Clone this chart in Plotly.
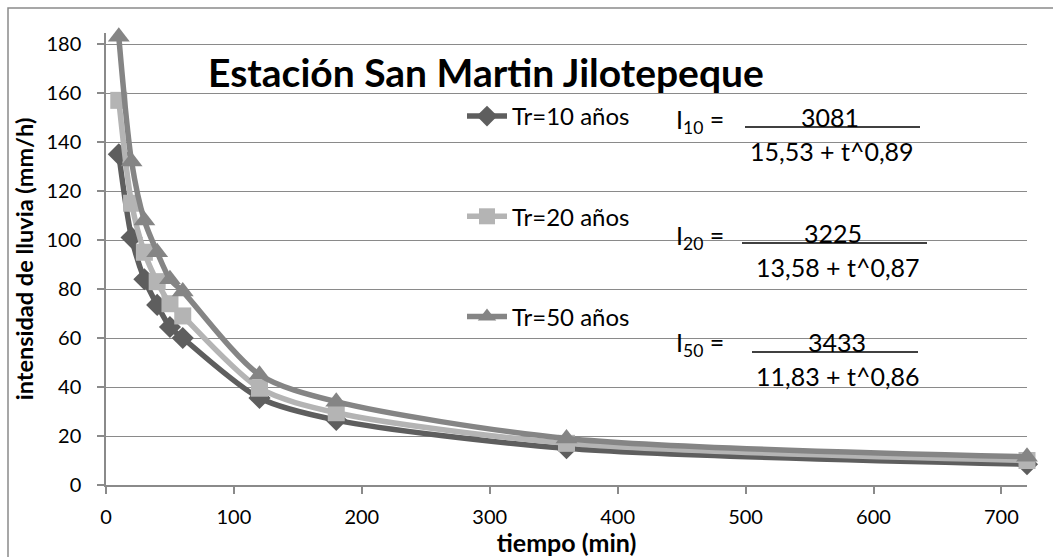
import plotly.graph_objects as go

# ---- data ----
tiempo = [10, 20, 30, 40, 50, 60, 120, 180, 360, 720]
tr10 = [135, 101, 84, 73.5, 64.5, 60, 35.5, 26.5, 15, 8.5]
tr20 = [157, 115, 95, 83, 74, 69, 39.5, 29.5, 17, 10]
tr50 = [183, 132, 108, 95, 84, 79, 45, 34, 19, 11.5]

series_names = ["Tr=10 años", "Tr=20 años", "Tr=50 años"]
series_values = [tr10, tr20, tr50]
series_colors = ["#5e5e5e", "#b4b4b4", "#858585"]
series_symbols = ["diamond", "square", "triangle-up"]
series_sizes = [17, 17, 19]

x_ticks = [0, 100, 200, 300, 400, 500, 600, 700]
y_ticks = [0, 20, 40, 60, 80, 100, 120, 140, 160, 180]

title_text = "Estación San Martin Jilotepeque"
formula_labels = ["I<sub>10</sub> =", "I<sub>20</sub> =", "I<sub>50</sub> ="]
formula_nums = ["3081", "3225", "3433"]
formula_dens = ["15,53 + t^0,89", "13,58 + t^0,87", "11,83 + t^0,86"]

FONT = "Lato"
W, H = 1053, 557
L, R, T, B = 106, 26, 33, 72
PW, PH = W - L - R, H - T - B


def px(xp):
    return (xp - L) / PW


def py(yp):
    return (H - B - yp) / PH


fig = go.Figure()
for i, (name, vals) in enumerate(zip(series_names, series_values)):
    fig.add_trace(go.Scatter(
        x=tiempo, y=vals, name=name, mode="lines+markers", cliponaxis=False,
        line=dict(color=series_colors[i], width=5.5, shape="spline", smoothing=0.8),
        marker=dict(symbol=series_symbols[i], size=series_sizes[i], color=series_colors[i]),
        legendgroup=f"g{i}",
    ))

annotations = [
    dict(text=f"<b>{title_text}</b>", x=px(486), y=py(72), xref="paper", yref="paper",
         showarrow=False, font=dict(family=FONT, size=39, color="black"),
         xanchor="center", yanchor="middle"),
]
shapes = [
    dict(type="rect", xref="paper", yref="paper", x0=px(8), y0=py(560), x1=px(1060), y1=py(8),
         line=dict(color="#8a8a8a", width=1.5), layer="below"),
]

FS = 25
num_y = [117, 233, 342]
lab_y = [121, 237, 344]
num_x = [830, 833, 837]
den_x = [832, 838, 838]
ul = [(745, 920), (742, 927), (752, 918)]
for k in range(3):
    annotations.append(dict(text=formula_labels[k], x=px(700), y=py(lab_y[k]), xref="paper", yref="paper",
                            showarrow=False, font=dict(family=FONT, size=FS, color="black"),
                            xanchor="center", yanchor="middle"))
    annotations.append(dict(text=formula_nums[k], x=px(num_x[k]), y=py(num_y[k]), xref="paper", yref="paper",
                            showarrow=False, font=dict(family=FONT, size=FS, color="black"),
                            xanchor="center", yanchor="middle"))
    annotations.append(dict(text=formula_dens[k], x=px(den_x[k]), y=py(num_y[k] + 34), xref="paper", yref="paper",
                            showarrow=False, font=dict(family=FONT, size=FS, color="black"),
                            xanchor="center", yanchor="middle"))
    shapes.append(dict(type="line", xref="paper", yref="paper", x0=px(ul[k][0]), x1=px(ul[k][1]),
                       y0=py(num_y[k] + 10), y1=py(num_y[k] + 10), line=dict(color="black", width=1.5)))

fig.update_layout(
    width=W, height=H,
    margin=dict(l=L, r=R, t=T, b=B),
    paper_bgcolor="white", plot_bgcolor="white",
    font=dict(family=FONT, size=20, color="black"),
    showlegend=True,
    legend=dict(x=px(462), y=py(94), xanchor="left", yanchor="top",
                bgcolor="rgba(0,0,0,0)", font=dict(family=FONT, size=24, color="black"),
                tracegroupgap=66, itemwidth=40, traceorder="grouped"),
    annotations=annotations,
    shapes=shapes,
    xaxis=dict(range=[0, 720], tickvals=x_ticks, showgrid=False, zeroline=False,
               showline=True, linecolor="#8a8a8a", linewidth=1.5,
               ticks="outside", ticklen=7, tickcolor="#8a8a8a", tickwidth=1.5,
               tickfont=dict(family=FONT, size=20, color="black"), ticklabelstandoff=6,
               title=dict(text="<b>tiempo (min)</b>", font=dict(family=FONT, size=25, color="black"), standoff=0)),
    yaxis=dict(range=[0, PH / 2.45], tickvals=y_ticks, showgrid=True, gridcolor="#8a8a8a", gridwidth=1.2,
               zeroline=False, showline=True, linecolor="#8a8a8a", linewidth=1.5,
               ticks="outside", ticklen=7, tickcolor="#8a8a8a", tickwidth=1.5,
               tickfont=dict(family=FONT, size=20, color="black"), ticklabelstandoff=12,
               title=dict(text="<b>intensidad de lluvia (mm/h)</b>", font=dict(family=FONT, size=23.5, color="black"), standoff=6)),
)

fig.write_html("out.html")
